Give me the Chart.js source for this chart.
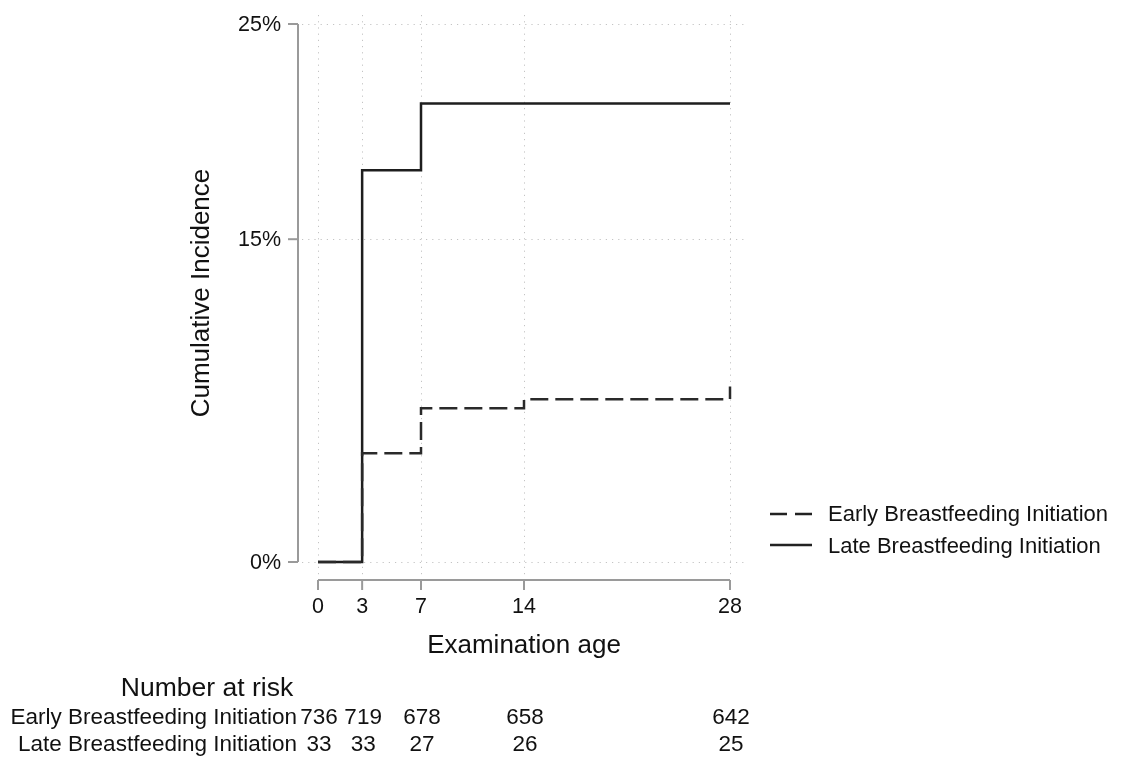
<!DOCTYPE html>
<html>
<head>
<meta charset="utf-8">
<title>Cumulative Incidence</title>
<script src="https://cdn.jsdelivr.net/npm/chart.js@4.4.1/dist/chart.umd.min.js"></script>
<style>
    html, body { margin: 0; padding: 0; background: #fff; }
    #wrap { position: relative; width: 1121px; height: 758px; }
</style>
</head>
<body>
<div id="wrap"><canvas id="myChart"></canvas></div>
<script>
// follow-up times (examination age) where the curves step
var times = [0, 3, 7, 14, 28];
// cumulative incidence in %
var earlyIncidence = [0, 5.05, 7.14, 7.56, 8.15];
var lateIncidence = [0, 18.2, 21.3, 21.3, 21.3];

// axis ticks
var xTicks = [0, 3, 7, 14, 28];
var yTicks = [0, 15, 25];
var yTickLabels = ['0%', '15%', '25%'];

// number at risk table
var riskTimes = [0, 3, 7, 14, 28];
var earlyRisk = [736, 719, 678, 658, 642];
var lateRisk = [33, 33, 27, 26, 25];

var groupNames = ['Early Breastfeeding Initiation', 'Late Breastfeeding Initiation'];

document.addEventListener('DOMContentLoaded', function () {
    var FONT = '"Liberation Sans", Arial, Helvetica, sans-serif';
    var INK = '#111';
    var AXIS = '#9a9a9a';

    function toPoints(xs, ys) {
        var pts = [];
        for (var i = 0; i < xs.length; i++) {
            pts.push({x: xs[i], y: ys[i]});
        }
        return pts;
    }

    // stata-like axes, grid, legend and risk table
    var stataDecor = {
        id: 'stataDecor',
        beforeDatasetsDraw: function (chart) {
            var ctx = chart.ctx;
            var area = chart.chartArea;
            var xs = chart.scales.x, ys = chart.scales.y;
            ctx.save();
            ctx.strokeStyle = '#c4c4c4';
            ctx.lineWidth = 1;
            ctx.setLineDash([1.2, 5]);
            xTicks.forEach(function (t) {
                var px = Math.round(xs.getPixelForValue(t)) + 0.5;
                ctx.beginPath();
                ctx.moveTo(px, area.top - 9);
                ctx.lineTo(px, area.bottom + 13);
                ctx.stroke();
            });
            yTicks.forEach(function (t) {
                var py = Math.round(ys.getPixelForValue(t)) + 0.5;
                ctx.beginPath();
                ctx.moveTo(area.left - 16, py);
                ctx.lineTo(area.right + 15, py);
                ctx.stroke();
            });
            ctx.restore();
        },
        afterDraw: function (chart) {
            var ctx = chart.ctx;
            var area = chart.chartArea;
            var xs = chart.scales.x, ys = chart.scales.y;
            ctx.save();
            ctx.setLineDash([]);
            ctx.strokeStyle = AXIS;
            ctx.lineWidth = 2;

            // y axis
            var ax = area.left - 20;
            ctx.beginPath();
            ctx.moveTo(ax, ys.getPixelForValue(25));
            ctx.lineTo(ax, ys.getPixelForValue(0));
            ctx.stroke();
            ctx.fillStyle = INK;
            ctx.font = '21.5px ' + FONT;
            ctx.textAlign = 'right';
            ctx.textBaseline = 'middle';
            yTicks.forEach(function (t, i) {
                var py = ys.getPixelForValue(t);
                ctx.beginPath();
                ctx.moveTo(ax - 10, py);
                ctx.lineTo(ax, py);
                ctx.stroke();
                ctx.fillText(yTickLabels[i], ax - 17, py + 1);
            });

            // x axis
            var ay = area.bottom + 18;
            ctx.beginPath();
            ctx.moveTo(xs.getPixelForValue(0), ay);
            ctx.lineTo(xs.getPixelForValue(28), ay);
            ctx.stroke();
            ctx.textAlign = 'center';
            xTicks.forEach(function (t) {
                var px = xs.getPixelForValue(t);
                ctx.beginPath();
                ctx.moveTo(px, ay);
                ctx.lineTo(px, ay + 10);
                ctx.stroke();
                ctx.fillText(String(t), px, ay + 27);
            });

            // axis titles
            ctx.font = '26px ' + FONT;
            ctx.fillText('Examination age', (xs.getPixelForValue(0) + xs.getPixelForValue(28)) / 2, 646);
            ctx.save();
            ctx.translate(202, (ys.getPixelForValue(0) + ys.getPixelForValue(25)) / 2);
            ctx.rotate(-Math.PI / 2);
            ctx.fillText('Cumulative Incidence', 0, 0);
            ctx.restore();

            // legend
            ctx.strokeStyle = '#222';
            ctx.lineWidth = 2.5;
            ctx.setLineDash([17, 8]);
            ctx.beginPath();
            ctx.moveTo(770, 514);
            ctx.lineTo(812, 514);
            ctx.stroke();
            ctx.setLineDash([]);
            ctx.beginPath();
            ctx.moveTo(770, 545);
            ctx.lineTo(812, 545);
            ctx.stroke();
            ctx.font = '22px ' + FONT;
            ctx.textAlign = 'left';
            ctx.fillText(groupNames[0], 828, 515);
            ctx.fillText(groupNames[1], 828, 547);

            // number at risk
            ctx.textAlign = 'center';
            ctx.font = '26.5px ' + FONT;
            ctx.fillText('Number at risk', 207, 689);
            ctx.font = '22.5px ' + FONT;
            ctx.textAlign = 'right';
            ctx.fillText(groupNames[0], 297, 718);
            ctx.fillText(groupNames[1], 297, 745);
            ctx.textAlign = 'center';
            riskTimes.forEach(function (t, i) {
                var px = xs.getPixelForValue(t) + 1;
                ctx.fillText(String(earlyRisk[i]), px, 718);
                ctx.fillText(String(lateRisk[i]), px, 745);
            });
            ctx.restore();
        }
    };

    var ctx = document.getElementById('myChart').getContext('2d');
    var chart = new Chart(ctx, {
        type: 'line',
        data: {
            datasets: [{
                label: groupNames[0],
                data: toPoints(times, earlyIncidence),
                stepped: true,
                borderColor: '#2a2a2a',
                borderWidth: 2.5,
                borderDash: [18, 7],
                pointRadius: 0,
                fill: false,
                clip: false
            }, {
                label: groupNames[1],
                data: toPoints(times, lateIncidence),
                stepped: true,
                borderColor: '#1e1e1e',
                borderWidth: 2.5,
                pointRadius: 0,
                fill: false,
                clip: false
            }]
        },
        options: {
            responsive: true,
            maintainAspectRatio: false,
            animation: false,
            layout: {
                padding: {left: 318, right: 391, top: 24, bottom: 196}
            },
            scales: {
                x: {type: 'linear', min: 0, max: 28, display: false},
                y: {type: 'linear', min: 0, max: 25, display: false}
            },
            plugins: {
                legend: {display: false},
                tooltip: {enabled: false}
            }
        },
        plugins: [stataDecor]
    });
});
</script>
</body>
</html>
